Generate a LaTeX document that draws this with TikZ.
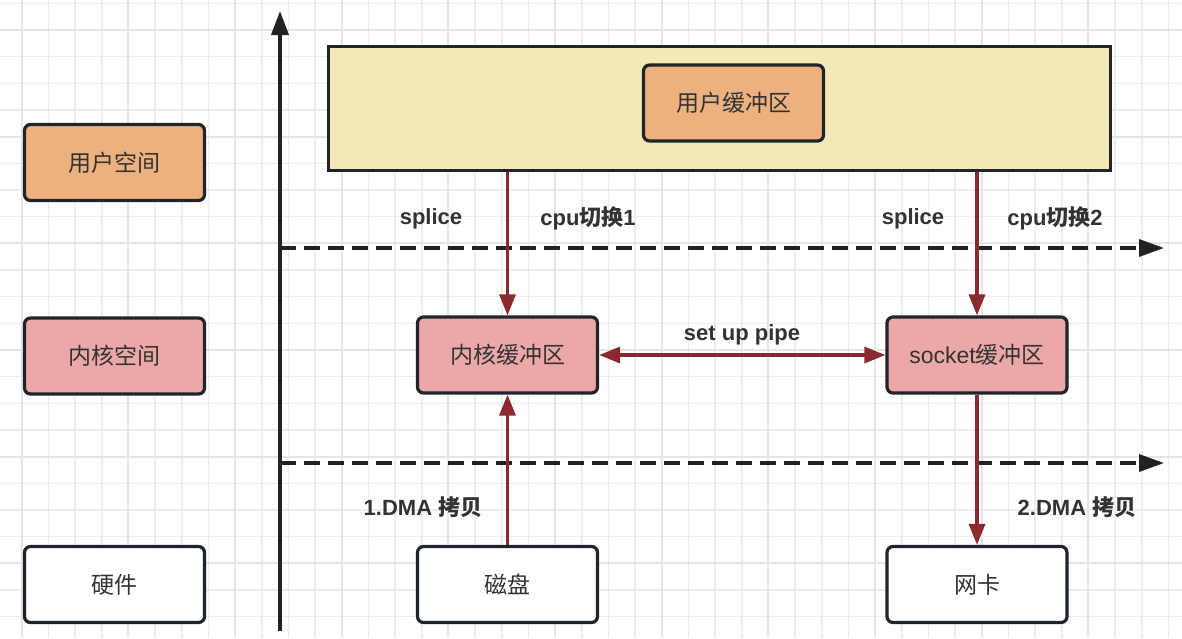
\documentclass[tikz,border=0pt]{standalone}
\usepackage{fontspec}
\setmainfont{Liberation Sans}
\newfontfamily\cjk{Noto Sans CJK SC}
\usetikzlibrary{arrows.meta}
\definecolor{gridminor}{HTML}{EDEDED}
\definecolor{gridmajor}{HTML}{E6E6E6}
\definecolor{orangec}{HTML}{EDB17F}
\definecolor{pinkc}{HTML}{ECA8A9}
\definecolor{yellowc}{HTML}{F3E8B8}
\definecolor{bordc}{HTML}{1F252A}
\definecolor{redc}{HTML}{8B2A2E}
\definecolor{textc}{HTML}{333333}
\definecolor{axisc}{HTML}{222222}
\tikzset{
  box/.style={draw=bordc, line width=3.2pt, rounded corners=6pt,
    minimum width=180pt, minimum height=76pt, inner sep=0pt,
    text=textc, font=\fontsize{23}{27}\selectfont},
  lbl/.style={text=textc, inner sep=0pt, font=\fontsize{22}{26}\selectfont\bfseries},
  redarr/.style={draw=redc, line width=3.4pt, -{Triangle[width=16pt,length=21pt]}},
  redboth/.style={draw=redc, line width=3.4pt, {Triangle[width=16pt,length=21pt]}-{Triangle[width=16pt,length=21pt]}},
  axisline/.style={draw=axisc, line width=3.6pt, -{Triangle[width=17pt,length=24pt]}},
  dashline/.style={draw=axisc, line width=3.4pt, dash pattern=on 16pt off 8pt, -{Triangle[width=17pt,length=25pt]}}
}
\begin{document}
\begin{tikzpicture}[x=1pt,y=-1pt]
\useasboundingbox (0,0) rectangle (1182,638);
\fill[white] (0,0) rectangle (1182,638);
% grid
\foreach \i in {0,...,43} {
  \draw[gridminor, line width=1.6pt] ({21.7+26.667*\i},0) -- ({21.7+26.667*\i},638);
}
\foreach \j in {0,...,23} {
  \draw[gridminor, line width=1.6pt] (0,{3.3+26.667*\j}) -- (1182,{3.3+26.667*\j});
}
\foreach \i in {0,...,10} {
  \draw[gridmajor, line width=2pt] ({21.7+106.667*\i},0) -- ({21.7+106.667*\i},638);
}
\foreach \j in {0,...,5} {
  \draw[gridmajor, line width=2pt] (0,{30+106.667*\j}) -- (1182,{30+106.667*\j});
}
% axis and dashed separators
\coordinate (ax0) at (280,631);
\coordinate (ax1) at (280,11);
\draw[axisline] (ax0) -- (ax1);
\coordinate (d1s) at (280,248);
\coordinate (d1e) at (1164,248);
\coordinate (d2s) at (280,463);
\coordinate (d2e) at (1164,463);
\draw[dashline] (d1s) -- (d1e);
\draw[dashline] (d2s) -- (d2e);
% legend
\node[box, fill=orangec] (us) at (114.5,162.5) {\cjk 用户空间};
\node[box, fill=pinkc] (ks) at (114.5,356) {\cjk 内核空间};
\node[box, fill=white] (hw) at (114.5,584.5) {\cjk 硬件};
% user space area
\node[draw=bordc, fill=yellowc, line width=3.2pt, minimum width=782pt, minimum height=124pt, inner sep=0pt] (ur) at (719.5,108.5) {};
\node[box, fill=orangec] (ub) at (733.5,103) {\cjk 用户缓冲区};
% kernel
\node[box, fill=pinkc] (kb) at (507.5,355) {\cjk 内核缓冲区};
\node[box, fill=pinkc] (sb) at (977,355) {socket{\cjk 缓冲区}};
% hardware
\node[box, fill=white] (disk) at (507.5,584.5) {\cjk 磁盘};
\node[box, fill=white] (nic) at (977,584.5) {\cjk 网卡};
% arrows
\draw[redarr] (kb.north |- ur.south) -- (kb.north);
\draw[redarr] (disk.north) -- (kb.south);
\draw[redarr] (sb.north |- ur.south) -- (sb.north);
\draw[redarr] (sb.south) -- (nic.north);
\draw[redboth] (kb.east) -- (sb.west);
% labels
\node[lbl] (l1) at (431,219) {splice};
\node[lbl] (l2) at (588,218) {cpu{\cjk\bfseries 切换}1};
\node[lbl] (l3) at (913,219) {splice};
\node[lbl] (l4) at (1055,218) {cpu{\cjk\bfseries 切换}2};
\node[lbl] (l5) at (742,335) {set up pipe};
\node[lbl] (l6) at (423,507) {1.DMA {\cjk\bfseries 拷贝}};
\node[lbl] (l7) at (1077,507) {2.DMA {\cjk\bfseries 拷贝}};
\end{tikzpicture}
\end{document}
